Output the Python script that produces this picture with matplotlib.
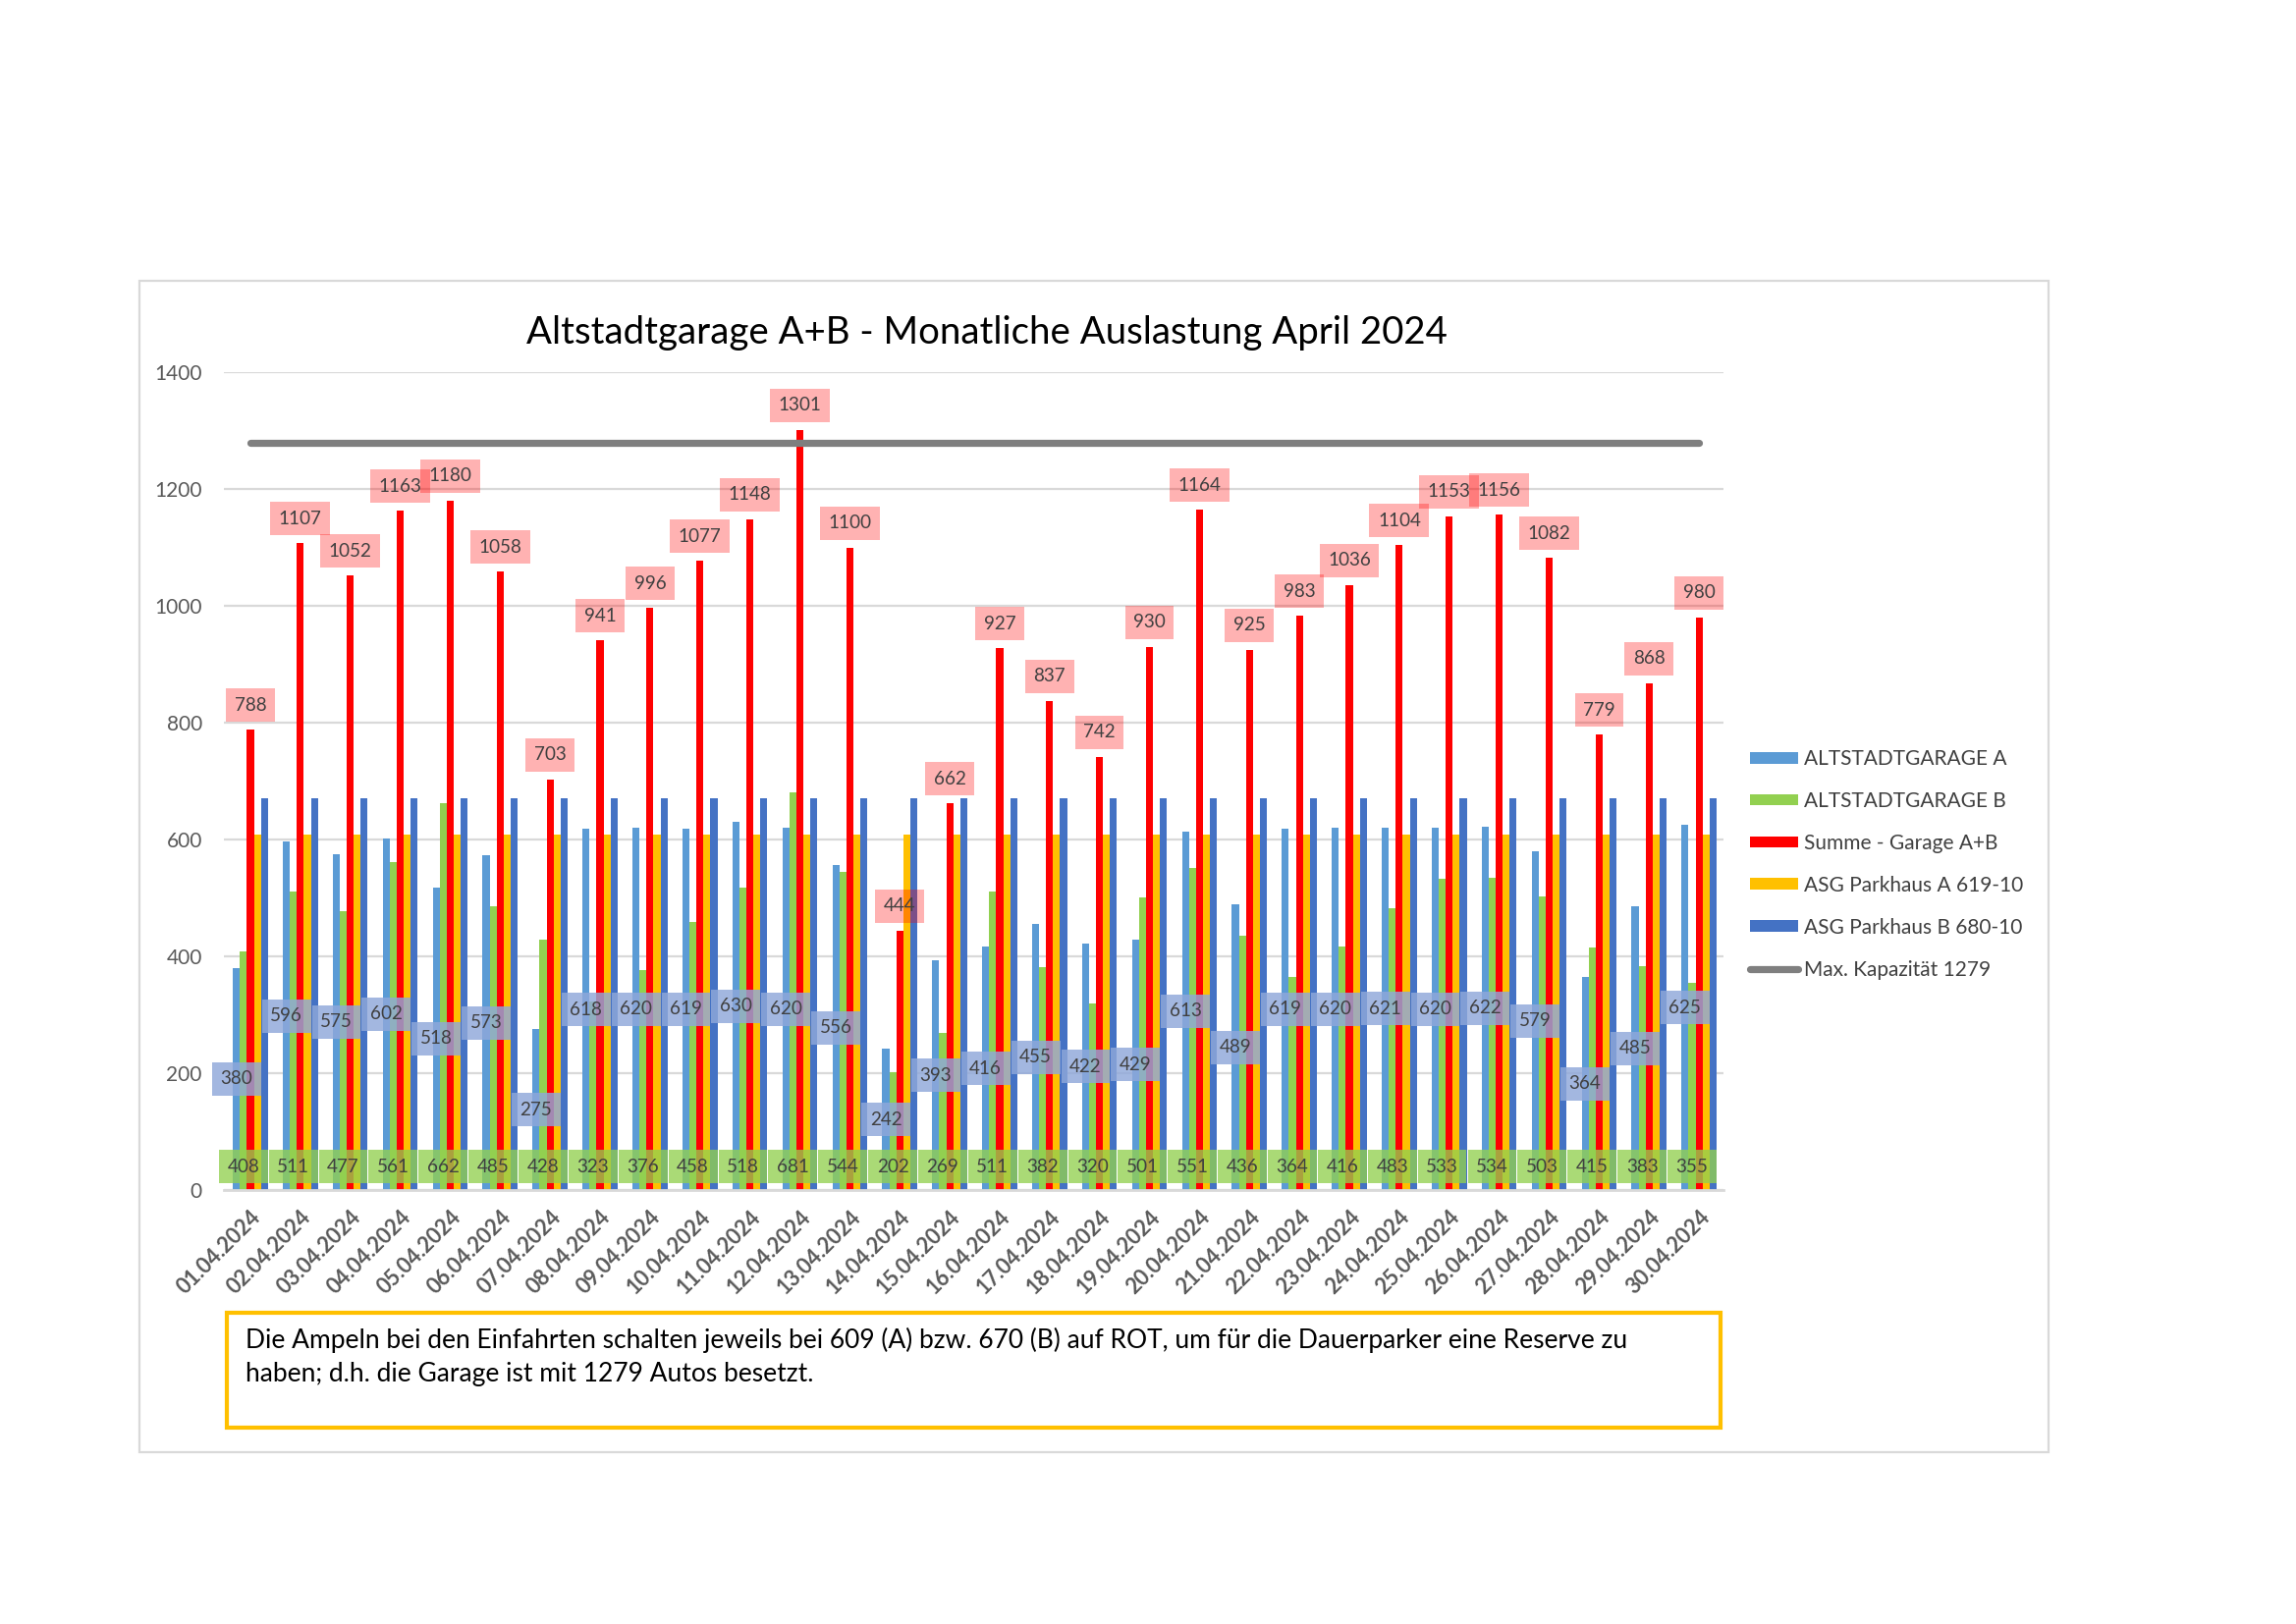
import matplotlib
matplotlib.use('Agg')
import matplotlib.pyplot as plt
from matplotlib.patches import Rectangle
import numpy as np

plt.rcParams['font.family'] = ['Lato', 'DejaVu Sans']

# Daten April 2024
tage = ['01.04.2024', '02.04.2024', '03.04.2024', '04.04.2024', '05.04.2024',
        '06.04.2024', '07.04.2024', '08.04.2024', '09.04.2024', '10.04.2024',
        '11.04.2024', '12.04.2024', '13.04.2024', '14.04.2024', '15.04.2024',
        '16.04.2024', '17.04.2024', '18.04.2024', '19.04.2024', '20.04.2024',
        '21.04.2024', '22.04.2024', '23.04.2024', '24.04.2024', '25.04.2024',
        '26.04.2024', '27.04.2024', '28.04.2024', '29.04.2024', '30.04.2024']
garage_a = [380, 596, 575, 602, 518, 573, 275, 618, 620, 619, 630, 620, 556, 242, 393,
            416, 455, 422, 429, 613, 489, 619, 620, 621, 620, 622, 579, 364, 485, 625]
garage_b = [408, 511, 477, 561, 662, 485, 428, 323, 376, 458, 518, 681, 544, 202, 269,
            511, 382, 320, 501, 551, 436, 364, 416, 483, 533, 534, 503, 415, 383, 355]
summe = [788, 1107, 1052, 1163, 1180, 1058, 703, 941, 996, 1077, 1148, 1301, 1100, 444, 662,
         927, 837, 742, 930, 1164, 925, 983, 1036, 1104, 1153, 1156, 1082, 779, 868, 980]
parkhaus_a = [609] * 30
parkhaus_b = [670] * 30
max_kap = [1279] * 30

W, H = 2338, 1654
fig = plt.figure(figsize=(W / 200, H / 200), dpi=200)

# aeusserer Rahmen
fig.patches.append(Rectangle((142 / W, 1 - 1479 / H), (2086 - 142) / W, (1479 - 286) / H,
                             transform=fig.transFigure, fill=False, ec='#D9D9D9', lw=0.8))

ax = fig.add_axes([228 / W, 1 - 1212 / H, (1755 - 228) / W, (1212 - 379) / H])

x = np.arange(len(tage))
w = 0.14
ax.bar(x - 2 * w, garage_a, w, color='#5B9BD5', label='ALTSTADTGARAGE A', zorder=2)
ax.bar(x - w, garage_b, w, color='#92D050', label='ALTSTADTGARAGE B', zorder=2)
ax.bar(x, summe, w, color='#FF0000', label='Summe - Garage A+B', zorder=2)
ax.bar(x + w, parkhaus_a, w, color='#FFC000', label='ASG Parkhaus A 619-10', zorder=2)
ax.bar(x + 2 * w, parkhaus_b, w, color='#4472C4', label='ASG Parkhaus B 680-10', zorder=2)
ax.plot(x, max_kap, color='#7F7F7F', lw=2.6, solid_capstyle='round',
        label='Max. Kapazität 1279', zorder=3)

# Datenbeschriftungen
lab = dict(fontsize=6.8, color='#404040', ha='center', va='center', zorder=5)
for i in range(len(tage)):
    ax.annotate(str(summe[i]), (x[i], summe[i]), xytext=(0, 9), textcoords='offset points',
                bbox=dict(boxstyle='square,pad=0.45', fc=(1, 0, 0, 0.3), ec='none'), **lab)
    ax.annotate(str(garage_a[i]), (x[i] - 2 * w, garage_a[i] / 2),
                bbox=dict(boxstyle='square,pad=0.45', fc=(0.56, 0.66, 0.855, 0.82), ec='none'), **lab)
    ax.annotate(str(garage_b[i]), (x[i] - w, 0), xytext=(0, 8.6), textcoords='offset points',
                bbox=dict(boxstyle='square,pad=0.45', fc=(0.573, 0.816, 0.314, 0.78), ec='none'), **lab)

ax.set_xlim(-0.53, 29.49)
ax.set_ylim(0, 1400)
ax.set_yticks(range(0, 1401, 200))
ax.yaxis.grid(True, color='#D9D9D9', lw=0.8, zorder=0)
ax.set_axisbelow(True)
for s in ['top', 'right', 'left']:
    ax.spines[s].set_visible(False)
ax.spines['bottom'].set_color('#D9D9D9')
ax.spines['bottom'].set_linewidth(1.0)
ax.tick_params(length=0)
ax.tick_params(axis='y', labelsize=7.5, labelcolor='#595959', pad=8)
ax.set_xticks(x)
ax.set_xticklabels(tage, rotation=45, ha='right', va='top', rotation_mode='anchor',
                   fontsize=7.8, fontweight='bold', color='#595959')
ax.tick_params(axis='x', pad=6)

fig.text(1005 / W, 1 - 339 / H, 'Altstadtgarage A+B - Monatliche Auslastung April 2024',
         ha='center', va='center', fontsize=13.8, color='black')

# Legende: Reihenfolge wie im Original (Linie zuletzt)
handles, labels = ax.get_legend_handles_labels()
order = [1, 2, 3, 4, 5, 0]
fig.legend([handles[k] for k in order], [labels[k] for k in order],
           loc='upper left', bbox_to_anchor=(1782 / W, 1 - 763 / H), frameon=False,
           fontsize=7.5, labelcolor='#404040', handlelength=2.35, handleheight=0.5,
           handletextpad=0.3, labelspacing=1.1, borderpad=0, borderaxespad=0)

# Hinweisbox
fig.patches.append(Rectangle((231 / W, 1 - 1454 / H), (1752 - 231) / W, (1454 - 1337) / H,
                             transform=fig.transFigure, fill=False, ec='#FFC000', lw=1.5))
fig.text(250 / W, 1 - 1352 / H,
         'Die Ampeln bei den Einfahrten schalten jeweils bei 609 (A) bzw. 670 (B) auf ROT, '
         'um für die Dauerparker eine Reserve zu\nhaben; d.h. die Garage ist mit 1279 Autos besetzt.',
         ha='left', va='top', fontsize=9.5, linespacing=1.45, color='black')

plt.savefig('out.png', dpi=200)
